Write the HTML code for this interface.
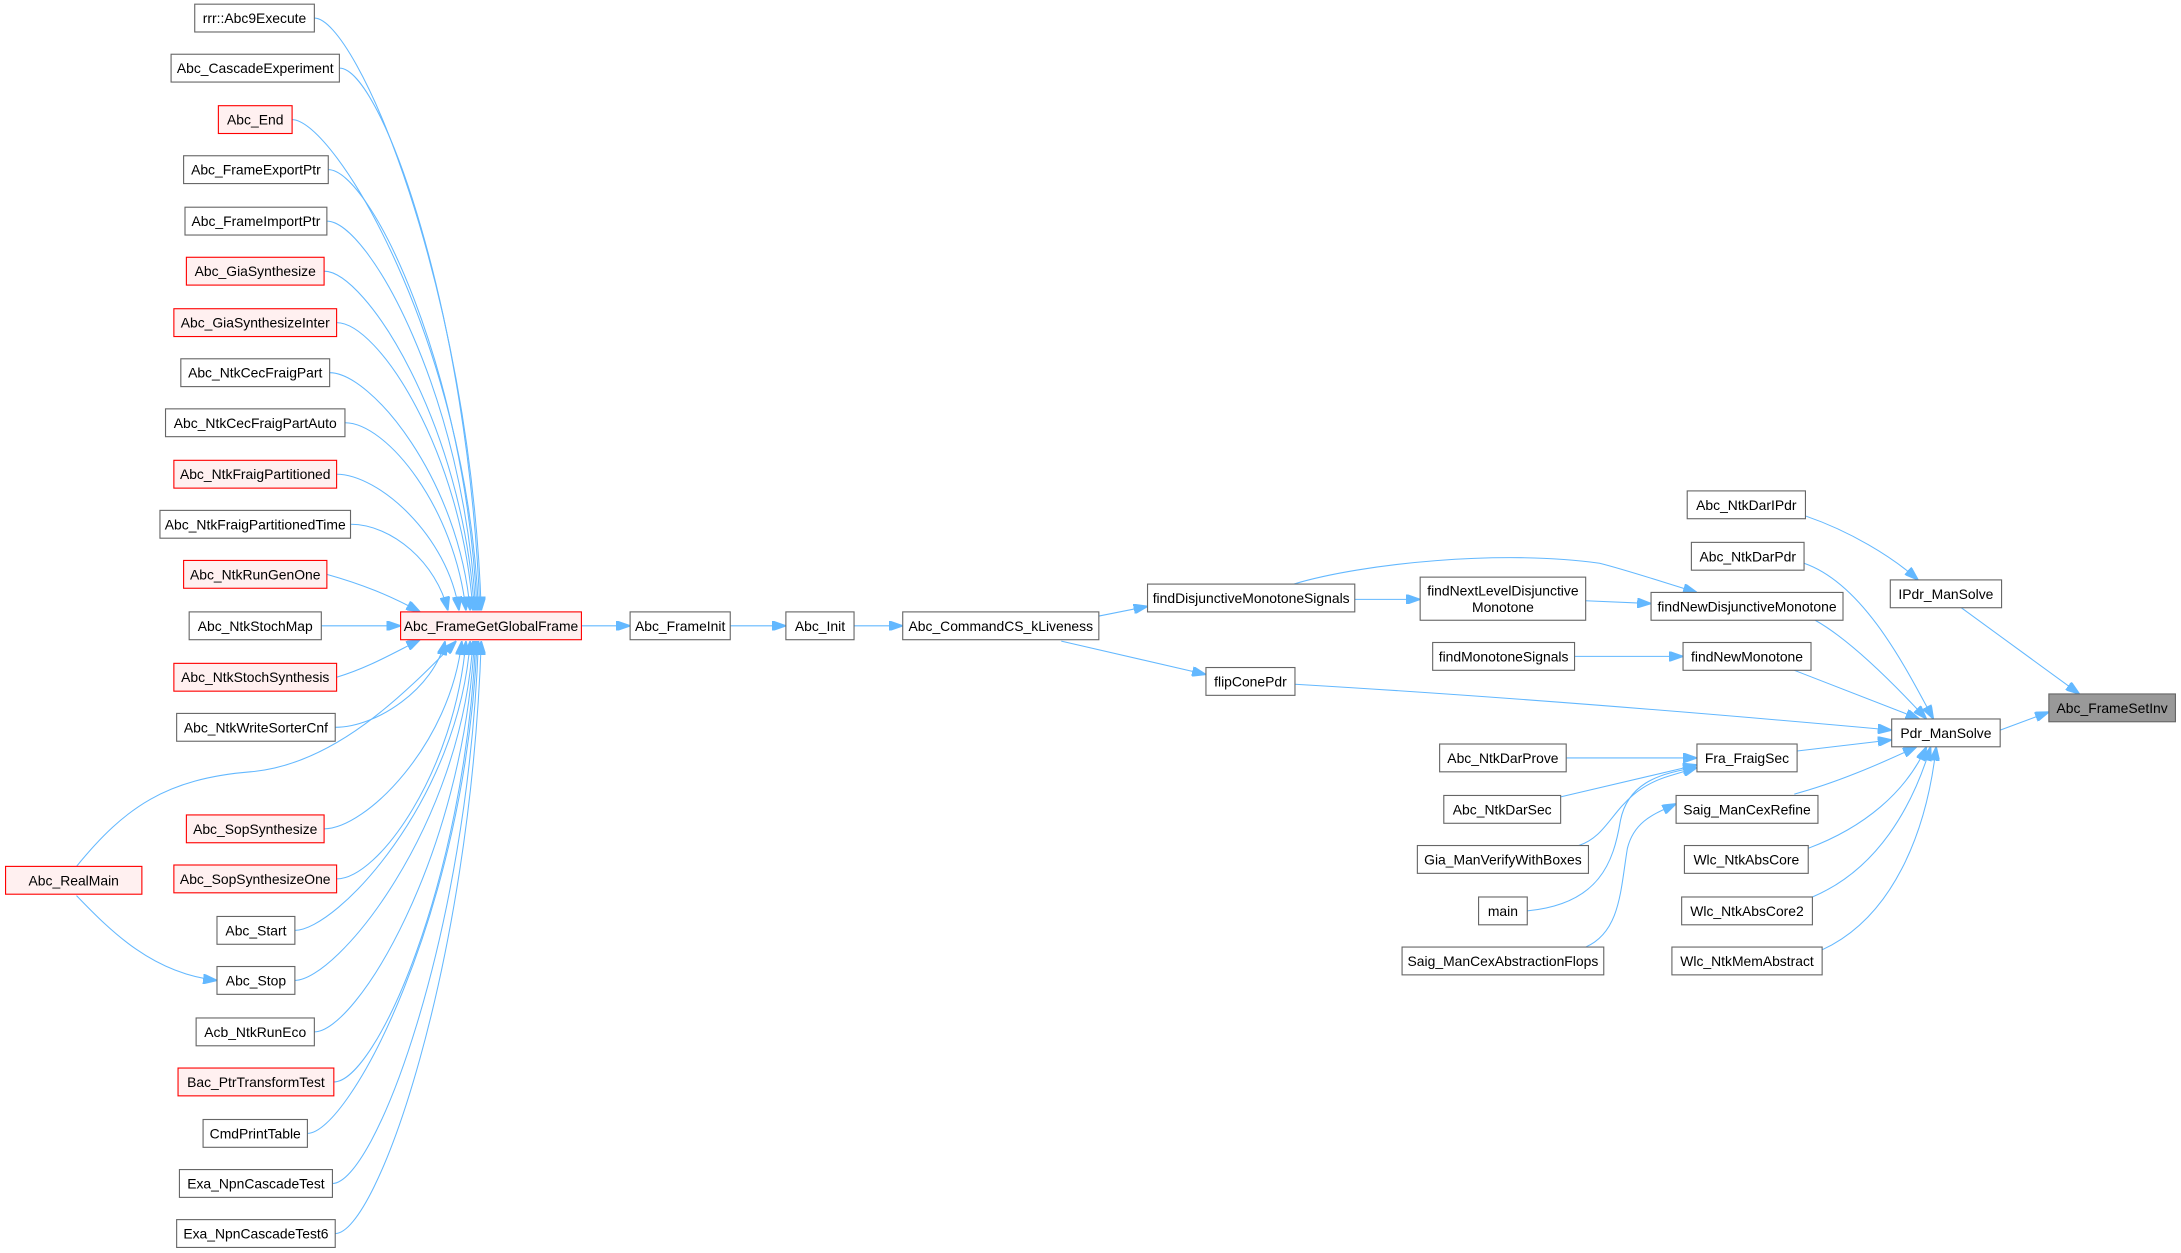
<!DOCTYPE html>
<html><head><meta charset="utf-8"><style>
html,body{margin:0;padding:0;background:#fff;}
svg{display:block}
text{font-family:"Liberation Sans",Arial,sans-serif;font-size:10px;fill:#000;text-anchor:middle;dominant-baseline:central}
.n{fill:#fff;stroke:#666;stroke-width:0.8}
.r{fill:#fff0f0;stroke:#f00;stroke-width:0.8}
.g{fill:#999;stroke:#666;stroke-width:0.8}
path{fill:none;stroke:#63b8ff;stroke-width:0.75}
</style></head><body>
<svg width="2181" height="1253" viewBox="0 0 1568 901" preserveAspectRatio="none">
<defs><marker id="a" viewBox="0 0 10 7" refX="10" refY="3.5" markerWidth="10" markerHeight="7" markerUnits="userSpaceOnUse" orient="auto"><polygon points="0,0 10,3.5 0,7" fill="#63b8ff" stroke="#63b8ff"/></marker></defs>
<g marker-end="url(#a)">
<path d="M226,13 C256,13 338,205 346,439"/>
<path d="M244,49 C274,49 337,225 345,439"/>
<path d="M210,86 C240,86 336,245 344,439"/>
<path d="M236,122 C266,122 335,265 343,439"/>
<path d="M235,159 C265,159 334,285 342,439"/>
<path d="M233,195 C263,195 333,305 341,439"/>
<path d="M242,232 C272,232 332,325 340,439"/>
<path d="M237,268 C267,268 330,345 338,439"/>
<path d="M248,304 C278,304 327,365 335,439"/>
<path d="M242,341 C272,341 322,385 330,439"/>
<path d="M252,377 C282,377 314,405 322,439"/>
<path d="M235,413 C260,420 280,428 302,440"/>
<path d="M231,450 L288,450"/>
<path d="M242,487 C265,480 282,470 302,460"/>
<path d="M241,523 C271,523 312,495 320,461"/>
<path d="M55,623 C90,580 120,560 180,555 C240,550 290,500 328,461"/>
<path d="M233,596 C263,596 324,535 332,461"/>
<path d="M242,632 C272,632 327,555 335,461"/>
<path d="M212,669 C242,669 330,575 338,461"/>
<path d="M212,705 C242,705 332,595 340,461"/>
<path d="M226,742 C256,742 333,616 341,461"/>
<path d="M240,778 C270,778 334,635 342,461"/>
<path d="M221,815 C251,815 335,656 343,461"/>
<path d="M239,851 C269,851 336,675 344,461"/>
<path d="M241,887 C271,887 338,695 346,461"/>
<path d="M55,644 C80,670 110,700 156,705"/>
<path d="M418,450 L453,450"/>
<path d="M525,450 L565,450"/>
<path d="M614,450 L649,450"/>
<path d="M790,443 L825,436"/>
<path d="M763,461 L867,485"/>
<path d="M974,431 L1021,431"/>
<path d="M930,420 C980,405 1080,395 1150,405 C1170,410 1200,420 1220,426"/>
<path d="M1140,432 L1187,434"/>
<path d="M1132,472 L1210,472"/>
<path d="M931,492 C1100,502 1250,515 1360,525"/>
<path d="M1298,371 C1330,382 1360,400 1379,417"/>
<path d="M1410,437 L1495,499"/>
<path d="M1438,525 L1473,512"/>
<path d="M1297,405 C1340,420 1370,480 1390,517"/>
<path d="M1305,446 C1330,460 1360,490 1385,517"/>
<path d="M1290,482 L1380,517"/>
<path d="M1292,540 L1360,532"/>
<path d="M1290,571 C1320,563 1350,550 1378,537"/>
<path d="M1300,610 C1340,595 1370,570 1385,537"/>
<path d="M1303,645 C1350,625 1375,580 1388,537"/>
<path d="M1310,683 C1360,660 1385,600 1392,537"/>
<path d="M1126,545 L1220,545"/>
<path d="M1122,573 L1220,550"/>
<path d="M1135,608 C1160,600 1160,570 1200,558 L1220,552"/>
<path d="M1098,655 C1150,650 1160,620 1165,590 C1170,565 1190,556 1220,552"/>
<path d="M1140,681 C1165,670 1165,640 1170,610 C1175,590 1190,585 1205,578"/>
</g>
<g>
<rect class="n" x="140" y="3" width="86" height="20"/><text x="183" y="13">rrr::Abc9Execute</text>
<rect class="n" x="123" y="39" width="121" height="20"/><text x="183.5" y="49">Abc_CascadeExperiment</text>
<rect class="r" x="157" y="76" width="53" height="20"/><text x="183.5" y="86">Abc_End</text>
<rect class="n" x="132" y="112" width="104" height="20"/><text x="184" y="122">Abc_FrameExportPtr</text>
<rect class="n" x="133" y="149" width="102" height="20"/><text x="184" y="159">Abc_FrameImportPtr</text>
<rect class="r" x="134" y="185" width="99" height="20"/><text x="183.5" y="195">Abc_GiaSynthesize</text>
<rect class="r" x="125" y="222" width="117" height="20"/><text x="183.5" y="232">Abc_GiaSynthesizeInter</text>
<rect class="n" x="130" y="258" width="107" height="20"/><text x="183.5" y="268">Abc_NtkCecFraigPart</text>
<rect class="n" x="119" y="294" width="129" height="20"/><text x="183.5" y="304">Abc_NtkCecFraigPartAuto</text>
<rect class="r" x="125" y="331" width="117" height="20"/><text x="183.5" y="341">Abc_NtkFraigPartitioned</text>
<rect class="n" x="115" y="367" width="137" height="20"/><text x="183.5" y="377">Abc_NtkFraigPartitionedTime</text>
<rect class="r" x="132" y="403" width="103" height="20"/><text x="183.5" y="413">Abc_NtkRunGenOne</text>
<rect class="n" x="136" y="440" width="95" height="20"/><text x="183.5" y="450">Abc_NtkStochMap</text>
<rect class="r" x="125" y="477" width="117" height="20"/><text x="183.5" y="487">Abc_NtkStochSynthesis</text>
<rect class="n" x="127" y="513" width="114" height="20"/><text x="184" y="523">Abc_NtkWriteSorterCnf</text>
<rect class="r" x="134" y="586" width="99" height="20"/><text x="183.5" y="596">Abc_SopSynthesize</text>
<rect class="r" x="125" y="622" width="117" height="20"/><text x="183.5" y="632">Abc_SopSynthesizeOne</text>
<rect class="n" x="156" y="659" width="56" height="20"/><text x="184" y="669">Abc_Start</text>
<rect class="n" x="156" y="695" width="56" height="20"/><text x="184" y="705">Abc_Stop</text>
<rect class="n" x="141" y="732" width="85" height="20"/><text x="183.5" y="742">Acb_NtkRunEco</text>
<rect class="r" x="128" y="768" width="112" height="20"/><text x="184" y="778">Bac_PtrTransformTest</text>
<rect class="n" x="146" y="805" width="75" height="20"/><text x="183.5" y="815">CmdPrintTable</text>
<rect class="n" x="129" y="841" width="110" height="20"/><text x="184" y="851">Exa_NpnCascadeTest</text>
<rect class="n" x="127" y="877" width="114" height="20"/><text x="184" y="887">Exa_NpnCascadeTest6</text>
<rect class="r" x="4" y="623" width="98" height="20"/><text x="53" y="633">Abc_RealMain</text>
<rect class="r" x="288" y="440" width="130" height="20"/><text x="353" y="450">Abc_FrameGetGlobalFrame</text>
<rect class="n" x="453" y="440" width="72" height="20"/><text x="489" y="450">Abc_FrameInit</text>
<rect class="n" x="565" y="440" width="49" height="20"/><text x="589.5" y="450">Abc_Init</text>
<rect class="n" x="649" y="440" width="141" height="20"/><text x="719.5" y="450">Abc_CommandCS_kLiveness</text>
<rect class="n" x="825" y="420" width="149" height="20"/><text x="899.5" y="430">findDisjunctiveMonotoneSignals</text>
<rect class="n" x="867" y="480" width="64" height="20"/><text x="899" y="490">flipConePdr</text>
<rect class="n" x="1021" y="415" width="119" height="31"/><text x="1080.5" y="424.5">findNextLevelDisjunctive</text><text x="1080.5" y="436.5">Monotone</text>
<rect class="n" x="1187" y="426" width="138" height="20"/><text x="1256" y="436">findNewDisjunctiveMonotone</text>
<rect class="n" x="1216" y="390" width="81" height="20"/><text x="1256.5" y="400">Abc_NtkDarPdr</text>
<rect class="n" x="1213" y="353" width="85" height="20"/><text x="1255.5" y="363">Abc_NtkDarIPdr</text>
<rect class="n" x="1030" y="462" width="102" height="20"/><text x="1081" y="472">findMonotoneSignals</text>
<rect class="n" x="1210" y="462" width="92" height="20"/><text x="1256" y="472">findNewMonotone</text>
<rect class="n" x="1359" y="417" width="80" height="20"/><text x="1399" y="427">IPdr_ManSolve</text>
<rect class="n" x="1360" y="517" width="78" height="20"/><text x="1399" y="527">Pdr_ManSolve</text>
<rect class="g" x="1473" y="499" width="91" height="20"/><text x="1518.5" y="509">Abc_FrameSetInv</text>
<rect class="n" x="1220" y="535" width="72" height="20"/><text x="1256" y="545">Fra_FraigSec</text>
<rect class="n" x="1035" y="535" width="91" height="20"/><text x="1080.5" y="545">Abc_NtkDarProve</text>
<rect class="n" x="1038" y="572" width="84" height="20"/><text x="1080" y="582">Abc_NtkDarSec</text>
<rect class="n" x="1019" y="608" width="123" height="20"/><text x="1080.5" y="618">Gia_ManVerifyWithBoxes</text>
<rect class="n" x="1063" y="645" width="35" height="20"/><text x="1080.5" y="655">main</text>
<rect class="n" x="1008" y="681" width="145" height="20"/><text x="1080.5" y="691">Saig_ManCexAbstractionFlops</text>
<rect class="n" x="1205" y="572" width="102" height="20"/><text x="1256" y="582">Saig_ManCexRefine</text>
<rect class="n" x="1211" y="608" width="89" height="20"/><text x="1255.5" y="618">Wlc_NtkAbsCore</text>
<rect class="n" x="1209" y="645" width="94" height="20"/><text x="1256" y="655">Wlc_NtkAbsCore2</text>
<rect class="n" x="1202" y="681" width="108" height="20"/><text x="1256" y="691">Wlc_NtkMemAbstract</text>
</g>
</svg>
</body></html>
